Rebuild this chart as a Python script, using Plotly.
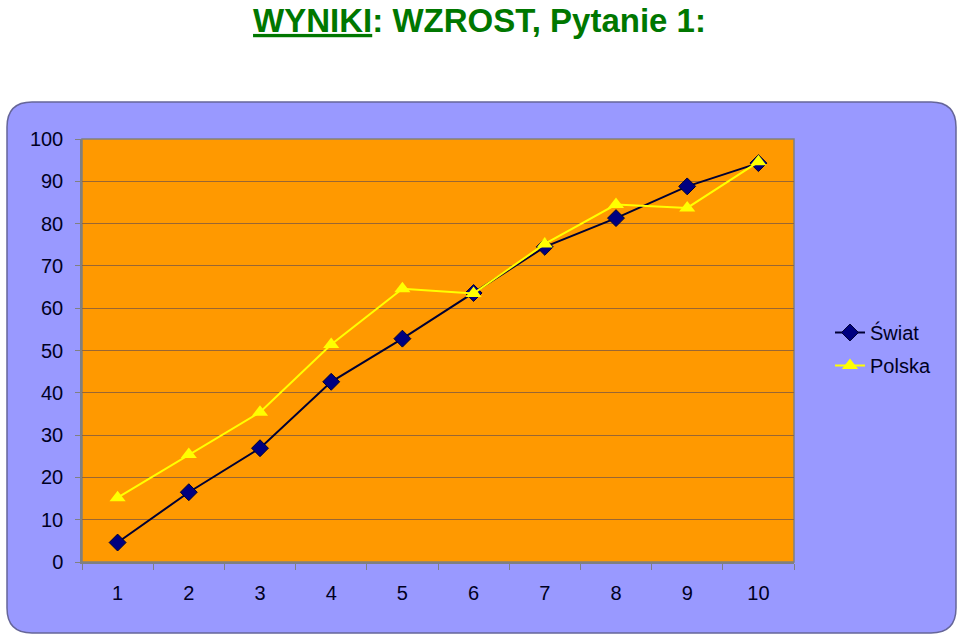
import plotly.graph_objects as go

# dane
pytania = ["1", "2", "3", "4", "5", "6", "7", "8", "9", "10"]
swiat = [4.6, 16.5, 26.9, 42.6, 52.8, 63.6, 74.5, 81.3, 88.8, 94.3]
polska = [15.2, 25.4, 35.4, 51.4, 64.6, 63.5, 75.2, 84.5, 83.7, 94.6]
y_ticks = [0, 10, 20, 30, 40, 50, 60, 70, 80, 90, 100]

W, H = 959, 637
L, R, T, B = 82, 165, 139, 75
pw, ph = W - L - R, H - T - B


def px_x(p):
    return (p - L) / pw


def px_y(p):
    return (H - B - p) / ph


def rounded(x0, y0, x1, y1, r):
    # prostokat z zaokraglonymi rogami, wspolrzedne w pikselach -> paper
    pts = [
        f"M {px_x(x0 + r)} {px_y(y0)}",
        f"L {px_x(x1 - r)} {px_y(y0)}",
        f"Q {px_x(x1)} {px_y(y0)} {px_x(x1)} {px_y(y0 + r)}",
        f"L {px_x(x1)} {px_y(y1 - r)}",
        f"Q {px_x(x1)} {px_y(y1)} {px_x(x1 - r)} {px_y(y1)}",
        f"L {px_x(x0 + r)} {px_y(y1)}",
        f"Q {px_x(x0)} {px_y(y1)} {px_x(x0)} {px_y(y1 - r)}",
        f"L {px_x(x0)} {px_y(y0 + r)}",
        f"Q {px_x(x0)} {px_y(y0)} {px_x(x0 + r)} {px_y(y0)}",
        "Z",
    ]
    return " ".join(pts)


fig = go.Figure()
fig.add_trace(go.Scatter(
    x=pytania, y=swiat, name="Świat", mode="lines+markers", legendgroup="a",
    line=dict(color="#000033", width=2),
    marker=dict(symbol="diamond", size=13, color="#000080",
                line=dict(color="#000033", width=1)),
))
fig.add_trace(go.Scatter(
    x=pytania, y=polska, name="Polska", mode="lines+markers", legendgroup="b",
    line=dict(color="#FFFF00", width=2),
    marker=dict(symbol="triangle-up", size=14, color="#FFFF00"),
))

fig.update_layout(
    width=W, height=H,
    margin=dict(l=L, r=R, t=T, b=B),
    paper_bgcolor="white",
    plot_bgcolor="rgba(0,0,0,0)",
    font=dict(family="Liberation Sans, Arial, sans-serif", size=20, color="#000022"),
    title=dict(
        text="<u>WYNIKI</u>: WZROST, Pytanie 1:",
        x=0.5, xref="container", xanchor="center",
        y=0.968, yref="container", yanchor="middle",
        font=dict(family="Liberation Sans Narrow, Arial Narrow, Liberation Sans, sans-serif",
                  size=33, color="#007700", weight="bold"),
    ),
    showlegend=True,
    legend=dict(
        x=(830 - L) / pw, y=px_y(313), xanchor="left", yanchor="top",
        bgcolor="rgba(0,0,0,0)", font=dict(size=20, color="#000022"),
        tracegroupgap=4,
    ),
    shapes=[
        dict(type="path", xref="paper", yref="paper", layer="below",
             path=rounded(7, 102, 956, 633, 25),
             fillcolor="#9999FF", line=dict(color="#666699", width=1.5)),
        dict(type="rect", xref="paper", yref="paper", layer="below",
             x0=0, x1=1, y0=0, y1=1,
             fillcolor="#FF9900", line=dict(color="#808080", width=1.5)),
    ],
)

fig.update_xaxes(
    type="category", showgrid=False, showline=True, linecolor="#808080", linewidth=1.5,
    ticks="outside", tickson="boundaries", ticklen=6, tickcolor="#808080",
    ticklabelstandoff=12, range=[-0.5, 9.5],
)
fig.update_yaxes(
    range=[0, 100], tickvals=y_ticks, showgrid=True, gridcolor="#996633", gridwidth=1,
    showline=True, linecolor="#808080", linewidth=1.5,
    ticks="outside", ticklen=5, tickcolor="#808080", ticklabelstandoff=8,
    zeroline=False,
)

fig.write_html("out.html", config={"displayModeBar": False},
               post_script="document.body.style.margin='0';")
